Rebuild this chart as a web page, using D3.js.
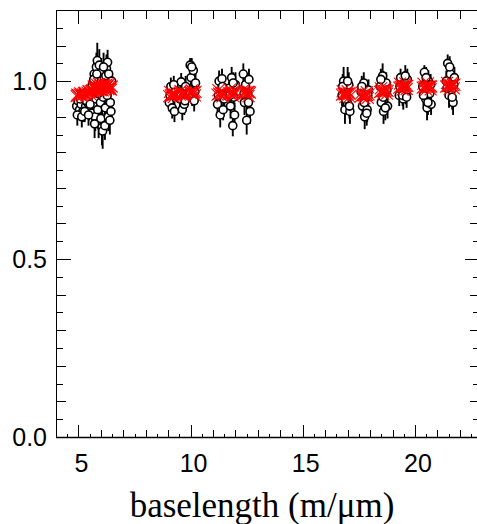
<!DOCTYPE html>
<html>
<head>
<meta charset="utf-8">
<script src="https://cdn.jsdelivr.net/npm/d3@7"></script>
<style>
  html, body { margin: 0; padding: 0; background: #fff; overflow: hidden; }
  svg { display: block; }
</style>
</head>
<body>
<div id="chart"></div>
<script>
// ---------------- data ----------------
const baselength = [
  // group near 5-6.5
  4.92, 4.98, 5.05, 5.12, 5.20, 5.25, 5.32, 5.40, 5.48, 5.55, 5.60, 5.62, 5.66, 5.70, 5.75, 5.78,
  5.80, 5.84, 5.86, 5.90, 5.95, 5.98, 6.00, 6.02, 6.05, 6.08, 6.10, 6.15, 6.20, 6.25, 6.30, 6.33,
  6.38, 6.42, 6.45,
  // group near 9-10
  9.05, 9.12, 9.18, 9.22, 9.28, 9.33,
  9.52, 9.58, 9.63, 9.68, 9.72, 9.78,
  9.98, 10.02, 10.07, 10.12, 10.16, 10.22,
  // group near 11-12.6
  11.20, 11.27, 11.32, 11.36, 11.40, 11.45, 11.50,
  11.72, 11.78, 11.83, 11.88, 11.92, 11.96, 12.00,
  12.35, 12.40, 12.45, 12.50, 12.55, 12.60, 12.65,
  // group 16.7-21.8
  16.75, 16.82, 16.88, 16.93, 16.98, 17.05, 17.10,
  17.60, 17.66, 17.72, 17.76, 17.82, 17.87, 17.93,
  18.45, 18.50, 18.56, 18.60, 18.66, 18.72, 18.78,
  19.30, 19.36, 19.42, 19.48, 19.54, 19.60, 19.66,
  20.35, 20.42, 20.48, 20.54, 20.60, 20.66, 20.72,
  21.40, 21.46, 21.52, 21.58, 21.63, 21.70, 21.76,
  // second pass
  4.95, 5.08, 5.15, 5.28, 5.36, 5.45, 5.52, 5.68, 5.72, 5.82, 5.88, 5.93, 6.04, 6.12, 6.18, 6.22,
  6.28, 6.35, 6.40, 6.48,
  9.08, 9.25, 9.55, 9.75, 10.05, 10.19,
  11.24, 11.42, 11.75, 11.90, 12.38, 12.58,
  16.78, 16.90, 17.00, 17.08, 17.63, 17.74, 17.85, 17.90,
  18.48, 18.58, 18.68, 18.75, 19.33, 19.45, 19.57, 19.63,
  20.38, 20.50, 20.58, 20.70, 21.43, 21.55, 21.66, 21.73
];
const visibility = [
  0.930, 0.945, 0.920, 0.935, 0.915, 0.950, 0.930, 0.940, 0.920, 0.955, 0.910, 0.990, 0.935, 1.020, 0.900, 0.950,
  1.040, 1.058, 0.920, 0.880, 1.000, 0.940, 0.895, 1.025, 0.870, 0.860, 0.955, 1.010, 0.925, 1.035, 1.053, 0.900,
  0.995, 0.940, 0.915,
  0.940, 0.985, 0.925, 0.960, 0.915, 0.975,
  0.950, 0.998, 0.920, 0.975, 0.935, 0.985,
  1.045, 1.010, 0.960, 1.030, 0.945, 0.995,
  0.935, 1.000, 0.905, 0.965, 1.007, 0.920, 0.950,
  0.980, 0.930, 1.010, 0.875, 0.955, 0.905, 0.990,
  1.020, 0.940, 0.990, 0.890, 0.965, 1.005, 0.915,
  0.960, 1.000, 0.920, 0.975, 0.940, 0.990, 0.915,
  0.970, 0.930, 0.995, 0.900, 0.955, 0.920, 0.975,
  0.985, 0.940, 1.015, 0.915, 0.965, 0.995, 0.930,
  0.960, 1.010, 0.975, 0.950, 0.995, 0.965, 1.005,
  0.985, 1.025, 0.950, 0.925, 1.000, 0.965, 0.935,
  1.000, 1.050, 0.960, 1.020, 0.975, 0.940, 1.010,
  0.905, 0.950, 0.900, 0.915, 0.945, 0.905, 0.935, 1.005, 0.880, 1.020, 0.965, 1.045, 0.990, 1.040, 0.875, 1.015,
  0.960, 1.020, 0.890, 1.000,
  0.960, 0.990, 0.965, 0.945, 1.040, 0.970,
  0.960, 0.985, 0.960, 0.995, 0.965, 0.940,
  0.985, 0.950, 1.000, 0.930, 0.985, 0.940, 0.910, 0.960,
  1.005, 0.955, 0.925, 0.975, 0.985, 0.960, 1.015, 0.955,
  0.960, 1.010, 0.940, 0.990, 0.980, 1.040, 0.955, 0.990
];
const visError = [
  0.025, 0.030, 0.030, 0.025, 0.030, 0.030, 0.025, 0.030, 0.030, 0.035, 0.035, 0.035, 0.030, 0.040, 0.040, 0.040,
  0.040, 0.050, 0.040, 0.040, 0.040, 0.040, 0.040, 0.040, 0.050, 0.050, 0.040, 0.040, 0.040, 0.040, 0.035, 0.040,
  0.035, 0.035, 0.030,
  0.025, 0.025, 0.030, 0.030, 0.030, 0.025,
  0.030, 0.025, 0.030, 0.030, 0.030, 0.030,
  0.020, 0.025, 0.030, 0.025, 0.030, 0.030,
  0.030, 0.030, 0.035, 0.035, 0.028, 0.030, 0.030,
  0.035, 0.035, 0.030, 0.030, 0.035, 0.035, 0.035,
  0.030, 0.035, 0.030, 0.040, 0.035, 0.030, 0.035,
  0.030, 0.040, 0.040, 0.035, 0.035, 0.035, 0.035,
  0.030, 0.035, 0.030, 0.035, 0.035, 0.035, 0.030,
  0.030, 0.035, 0.035, 0.035, 0.035, 0.030, 0.035,
  0.030, 0.025, 0.030, 0.030, 0.030, 0.030, 0.030,
  0.030, 0.020, 0.030, 0.035, 0.030, 0.035, 0.030,
  0.030, 0.025, 0.035, 0.030, 0.035, 0.035, 0.030,
  0.030, 0.030, 0.030, 0.030, 0.030, 0.030, 0.035, 0.035, 0.040, 0.040, 0.040, 0.045, 0.040, 0.040, 0.040, 0.040,
  0.040, 0.035, 0.040, 0.030,
  0.030, 0.025, 0.030, 0.030, 0.025, 0.030,
  0.030, 0.030, 0.030, 0.030, 0.030, 0.035,
  0.035, 0.035, 0.040, 0.035, 0.030, 0.035, 0.035, 0.030,
  0.030, 0.035, 0.035, 0.030, 0.030, 0.030, 0.030, 0.030,
  0.030, 0.030, 0.035, 0.030, 0.030, 0.030, 0.035, 0.030
];
const modelVis = [
  0.958, 0.960, 0.962, 0.963, 0.963, 0.966, 0.965, 0.968, 0.970, 0.972, 0.972, 0.975, 0.972, 0.980, 0.976, 0.974,
  0.984, 0.982, 0.976, 0.974, 0.985, 0.978, 0.975, 0.988, 0.976, 0.974, 0.982, 0.988, 0.980, 0.990, 0.988, 0.978,
  0.984, 0.980, 0.976,
  0.958, 0.960, 0.960, 0.962, 0.962, 0.963,
  0.962, 0.964, 0.963, 0.965, 0.964, 0.966,
  0.968, 0.968, 0.967, 0.970, 0.968, 0.970,
  0.962, 0.965, 0.962, 0.966, 0.967, 0.964, 0.966,
  0.966, 0.965, 0.968, 0.965, 0.967, 0.966, 0.969,
  0.968, 0.967, 0.969, 0.966, 0.970, 0.970, 0.968,
  0.962, 0.964, 0.963, 0.965, 0.964, 0.966, 0.965,
  0.958, 0.960, 0.961, 0.960, 0.962, 0.961, 0.963,
  0.970, 0.971, 0.972, 0.971, 0.973, 0.974, 0.973,
  0.982, 0.984, 0.985, 0.985, 0.986, 0.987, 0.987,
  0.982, 0.983, 0.984, 0.984, 0.985, 0.985, 0.985,
  0.985, 0.986, 0.987, 0.988, 0.988, 0.989, 0.990,
  0.962, 0.966, 0.958, 0.968, 0.960, 0.972, 0.964, 0.985, 0.968, 0.990, 0.980, 0.992, 0.985, 0.990, 0.975, 0.988,
  0.985, 0.990, 0.978, 0.985,
  0.970, 0.955, 0.972, 0.956, 0.974, 0.960,
  0.975, 0.957, 0.976, 0.958, 0.977, 0.958,
  0.972, 0.955, 0.972, 0.956, 0.968, 0.952, 0.969, 0.953,
  0.980, 0.964, 0.981, 0.965, 0.993, 0.976, 0.994, 0.978,
  0.993, 0.976, 0.994, 0.977, 0.995, 0.978, 0.996, 0.980
];
const xTickLabels = [5, 10, 15, 20];
const yTickLabels = ["0.0", "0.5", "1.0"];
const xLabel = "baselength (m/\u03bcm)";

// ---------------- layout ----------------
const W = 490, H = 524;
const L = 56, T = 10, R = 480, B = 437;

const svg = d3.select("#chart").append("svg")
  .attr("width", W).attr("height", H);

const x = d3.scaleLinear().domain([4, 22.9]).range([L, R]);
const y = d3.scaleLinear().domain([0, 1.2]).range([B, T]);

// ---------------- ticks ----------------
const tickG = svg.append("g").attr("stroke", "#000").attr("stroke-width", 1);
const eps = 1e-6;
d3.range(0, 1.2001, 0.05).forEach(v => {
  const isMajor = Math.abs(v / 0.5 - Math.round(v / 0.5)) < eps;
  const isMed = Math.abs(v / 0.1 - Math.round(v / 0.1)) < eps;
  const len = isMajor ? 15 : (isMed ? 10 : 7);
  const yy = Math.round(y(v)) + 0.5;
  tickG.append("line").attr("x1", L).attr("x2", L + len).attr("y1", yy).attr("y2", yy);
  tickG.append("line").attr("x1", R).attr("x2", R - len).attr("y1", yy).attr("y2", yy);
});
d3.range(4, 23, 1).forEach(v => {
  const len = (v % 5 === 0) ? 14 : 9;
  const xx = Math.round(x(v)) + 0.5;
  tickG.append("line").attr("x1", xx).attr("x2", xx).attr("y1", T).attr("y2", T + len);
});
d3.range(4, 22.9, 0.5).forEach(v => {
  const isFive = Math.abs(v / 5 - Math.round(v / 5)) < eps;
  const isInt = Math.abs(v - Math.round(v)) < eps;
  const len = isFive ? 12 : (isInt ? 7 : 3);
  const xx = Math.round(x(v)) + 0.5;
  tickG.append("line").attr("x1", xx).attr("x2", xx).attr("y1", B).attr("y2", B - len);
});

// frame
svg.append("line").attr("x1", L + 0.5).attr("x2", L + 0.5).attr("y1", T).attr("y2", B + 1)
  .attr("stroke", "#000").attr("stroke-width", 1);
svg.append("line").attr("x1", L).attr("x2", R).attr("y1", T + 0.5).attr("y2", T + 0.5)
  .attr("stroke", "#000").attr("stroke-width", 1);
svg.append("line").attr("x1", R + 0.5).attr("x2", R + 0.5).attr("y1", T).attr("y2", B)
  .attr("stroke", "#000").attr("stroke-width", 1);
svg.append("line").attr("x1", L).attr("x2", R).attr("y1", B + 0.5).attr("y2", B + 0.5)
  .attr("stroke", "#000").attr("stroke-width", 1.6);

// tick labels
svg.append("g").selectAll("text").data(xTickLabels).join("text")
  .attr("x", d => x(d) + 3).attr("y", 472)
  .attr("text-anchor", "middle")
  .attr("font-family", "'Liberation Sans', Arial, sans-serif")
  .attr("font-size", 25).attr("fill", "#000")
  .text(d => d);
svg.append("g").selectAll("text").data(yTickLabels).join("text")
  .attr("x", 47).attr("y", d => y(+d) + 9)
  .attr("text-anchor", "end")
  .attr("font-family", "'Liberation Sans', Arial, sans-serif")
  .attr("font-size", 25).attr("fill", "#000")
  .text(d => d);

// axis title
svg.append("text")
  .attr("x", 262).attr("y", 517)
  .attr("text-anchor", "middle")
  .attr("font-family", "'Liberation Serif', 'Times New Roman', serif")
  .attr("font-size", 35).attr("fill", "#000")
  .text(xLabel);

// ---------------- data marks ----------------
const pts = baselength.map((b, i) => ({ b, v: visibility[i], e: visError[i], m: modelVis[i] }));
const plot = svg.append("g");

plot.append("g").selectAll("line").data(pts).join("line")
  .attr("x1", d => x(d.b)).attr("x2", d => x(d.b))
  .attr("y1", d => y(d.v - d.e)).attr("y2", d => y(d.v + d.e))
  .attr("stroke", "#000").attr("stroke-width", 1.9);

plot.append("g").selectAll("circle").data(pts).join("circle")
  .attr("cx", d => x(d.b)).attr("cy", d => y(d.v)).attr("r", 4)
  .attr("fill", "#fff").attr("stroke", "#000").attr("stroke-width", 1.6);

const s = 6;
plot.append("g").selectAll("path").data(pts).join("path")
  .attr("d", d => {
    const cx = x(d.b), cy = y(d.m);
    return `M${cx - s},${cy - s}L${cx + s},${cy + s}M${cx - s},${cy + s}L${cx + s},${cy - s}`;
  })
  .attr("stroke", "#ff0000").attr("stroke-width", 1.1).attr("fill", "none");
</script>
</body>
</html>
